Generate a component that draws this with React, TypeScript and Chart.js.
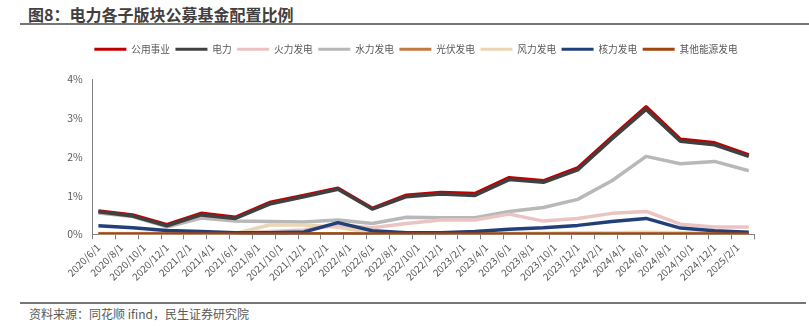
import React, { useEffect, useRef } from "react";
import { Chart, registerables } from "chart.js";

Chart.register(...registerables);

const monthLabels = [
  "2020/6/1", "2020/7/1", "2020/8/1", "2020/9/1", "2020/10/1", "2020/11/1", "2020/12/1",
  "2021/1/1", "2021/2/1", "2021/3/1", "2021/4/1", "2021/5/1", "2021/6/1", "2021/7/1", "2021/8/1", "2021/9/1", "2021/10/1", "2021/11/1", "2021/12/1",
  "2022/1/1", "2022/2/1", "2022/3/1", "2022/4/1", "2022/5/1", "2022/6/1", "2022/7/1", "2022/8/1", "2022/9/1", "2022/10/1", "2022/11/1", "2022/12/1",
  "2023/1/1", "2023/2/1", "2023/3/1", "2023/4/1", "2023/5/1", "2023/6/1", "2023/7/1", "2023/8/1", "2023/9/1", "2023/10/1", "2023/11/1", "2023/12/1",
  "2024/1/1", "2024/2/1", "2024/3/1", "2024/4/1", "2024/5/1", "2024/6/1", "2024/7/1", "2024/8/1", "2024/9/1", "2024/10/1", "2024/11/1", "2024/12/1",
  "2025/1/1", "2025/2/1", "2025/3/1",
];

const quarterDates = [
  "2020/6/1", "2020/9/1", "2020/12/1", "2021/3/1", "2021/6/1", "2021/9/1", "2021/12/1",
  "2022/3/1", "2022/6/1", "2022/9/1", "2022/12/1", "2023/3/1", "2023/6/1", "2023/9/1",
  "2023/12/1", "2024/3/1", "2024/6/1", "2024/9/1", "2024/12/1", "2025/3/1",
];

const utilities = [0.60, 0.50, 0.25, 0.54, 0.44, 0.82, 1.00, 1.19, 0.67, 1.01, 1.08, 1.05, 1.46, 1.38, 1.71, 2.51, 3.29, 2.45, 2.36, 2.05];
const power = [0.58, 0.47, 0.22, 0.50, 0.41, 0.78, 0.97, 1.16, 0.65, 0.97, 1.04, 1.00, 1.41, 1.34, 1.66, 2.46, 3.22, 2.40, 2.31, 2.01];
const thermal = [0.02, 0.02, 0.03, 0.03, 0.03, 0.07, 0.11, 0.24, 0.17, 0.28, 0.37, 0.37, 0.52, 0.34, 0.41, 0.54, 0.59, 0.26, 0.19, 0.19];
const hydro = [0.55, 0.46, 0.19, 0.42, 0.34, 0.33, 0.32, 0.37, 0.28, 0.44, 0.43, 0.43, 0.59, 0.69, 0.90, 1.38, 2.01, 1.82, 1.88, 1.64];
const solar = [0.01, 0.01, 0.01, 0.01, 0.01, 0.01, 0.01, 0.01, 0.01, 0.01, 0.01, 0.01, 0.01, 0.01, 0.01, 0.01, 0.01, 0.01, 0.01, 0.01];
const wind = [0.01, 0.01, 0.01, 0.01, 0.02, 0.24, 0.24, 0.18, 0.04, 0.03, 0.03, 0.03, 0.03, 0.03, 0.04, 0.04, 0.05, 0.04, 0.03, 0.03];
const nuclear = [0.22, 0.17, 0.10, 0.07, 0.04, 0.04, 0.06, 0.30, 0.09, 0.04, 0.04, 0.07, 0.13, 0.17, 0.23, 0.33, 0.41, 0.16, 0.09, 0.05];
const otherEnergy = [0, 0, 0, 0, 0, 0, 0, 0, 0, 0, 0, 0, 0, 0, 0, 0, 0, 0, 0, 0];

const yTicks = [0, 1, 2, 3, 4];

const seriesDefs = [
  { name: "公用事业", values: utilities, color: "#C00000", order: 4, width: 3.5 },
  { name: "电力", values: power, color: "#404040", order: 3, width: 3.5 },
  { name: "火力发电", values: thermal, color: "#EBC3C3", order: 5, width: 3.5 },
  { name: "水力发电", values: hydro, color: "#B8B8B8", order: 7, width: 3.5 },
  { name: "光伏发电", values: solar, color: "#C27A40", order: 8, width: 3.5 },
  { name: "风力发电", values: wind, color: "#E8D6B4", order: 6, width: 3.5 },
  { name: "核力发电", values: nuclear, color: "#21407A", order: 2, width: 3.5 },
  { name: "其他能源发电", values: otherEnergy, color: "#A0450F", order: 1, width: 4 },
];

const FONT = '"Noto Sans CJK SC", "Microsoft YaHei", sans-serif';

export default function App() {
  const ref = useRef<HTMLCanvasElement | null>(null);

  useEffect(() => {
    if (!ref.current) return;
    const chart = new Chart(ref.current, {
      type: "line",
      data: {
        labels: monthLabels,
        datasets: seriesDefs.map((s) => ({
          label: s.name,
          data: s.values.map((v, i) => ({ x: quarterDates[i], y: v })),
          borderColor: s.color,
          backgroundColor: s.color,
          borderWidth: s.width,
          pointRadius: 0,
          tension: 0,
          order: s.order,
          borderJoinStyle: "round" as const,
        })),
      },
      options: {
        animation: false,
        responsive: false,
        devicePixelRatio: 1,
        layout: { padding: { top: 9, left: 77.5, right: 54.5, bottom: 0 } },
        font: { family: FONT },
        plugins: {
          tooltip: { enabled: false },
          legend: {
            position: "top",
            weight: 3000,
            labels: {
              boxWidth: 32,
              boxHeight: 3,
              padding: 5.5,
              color: "#595959",
              font: { family: FONT, size: 9.7 },
              generateLabels: (c: any) =>
                (Chart.defaults.plugins.legend.labels as any)
                  .generateLabels(c)
                  .map((l: any) => ({ ...l, lineWidth: 0 })),
              sort: (a: any, b: any) => a.datasetIndex - b.datasetIndex,
            },
          } as any,
          title: {
            display: true,
            text: "",
            font: { size: 10, lineHeight: 1.2 },
            padding: { top: 0, bottom: 3 },
          },
        },
        scales: {
          x: {
            type: "category",
            offset: true,
            grid: {
              display: true,
              offset: true,
              drawOnChartArea: false,
              drawTicks: true,
              tickLength: 5,
              color: (ctx: any) =>
                ctx.index === undefined || ctx.index % 2 === 0 ? "#808080" : "rgba(0,0,0,0)",
            },
            border: { display: true, color: "#808080", width: 1 },
            ticks: {
              autoSkip: false,
              minRotation: 45,
              maxRotation: 45,
              padding: 2,
              color: "#595959",
              font: { family: FONT, size: 10 },
              callback: function (this: any, value: any, index: number) {
                return index % 2 === 0 ? this.getLabelForValue(value) : "";
              },
            },
            afterFit: (scale: any) => {
              scale.height = 65.7;
            },
          },
          y: {
            min: 0,
            max: 4,
            afterBuildTicks: (scale: any) => {
              scale.ticks = yTicks.map((v) => ({ value: v }));
            },
            grid: { display: false, drawTicks: false },
            border: { display: true, color: "#808080", width: 1 },
            ticks: {
              padding: 10,
              color: "#595959",
              font: { family: FONT, size: 10.5 },
              callback: (v: any) => v + "%",
            },
            afterFit: (scale: any) => {
              scale.width = 15.2;
              scale._computeLabelArea = () => undefined;
            },
          },
        },
      } as any,
    });
    return () => chart.destroy();
  }, []);

  return (
    <div
      style={{
        position: "absolute",
        left: 0,
        top: 0,
        width: 809,
        height: 326,
        background: "#fff",
        overflow: "hidden",
        fontFamily: FONT,
      }}
    >
      <div
        style={{
          position: "absolute",
          left: 28,
          top: 4,
          fontSize: 16,
          lineHeight: "20px",
          fontWeight: 700,
          color: "#404040",
          whiteSpace: "nowrap",
        }}
      >
        图8：电力各子版块公募基金配置比例
      </div>
      <div style={{ position: "absolute", left: 20, top: 22.5, width: 789, height: 2, background: "#767676" }} />
      <canvas
        ref={ref}
        width={809}
        height={270}
        style={{ position: "absolute", left: 0, top: 30, width: 809, height: 270 }}
      />
      <div style={{ position: "absolute", left: 20, top: 301.5, width: 786, height: 2, background: "#767676" }} />
      <div
        style={{
          position: "absolute",
          left: 29,
          top: 306,
          fontSize: 12,
          lineHeight: "16px",
          color: "#595959",
          whiteSpace: "nowrap",
        }}
      >
        资料来源：同花顺 ifind，民生证券研究院
      </div>
    </div>
  );
}
